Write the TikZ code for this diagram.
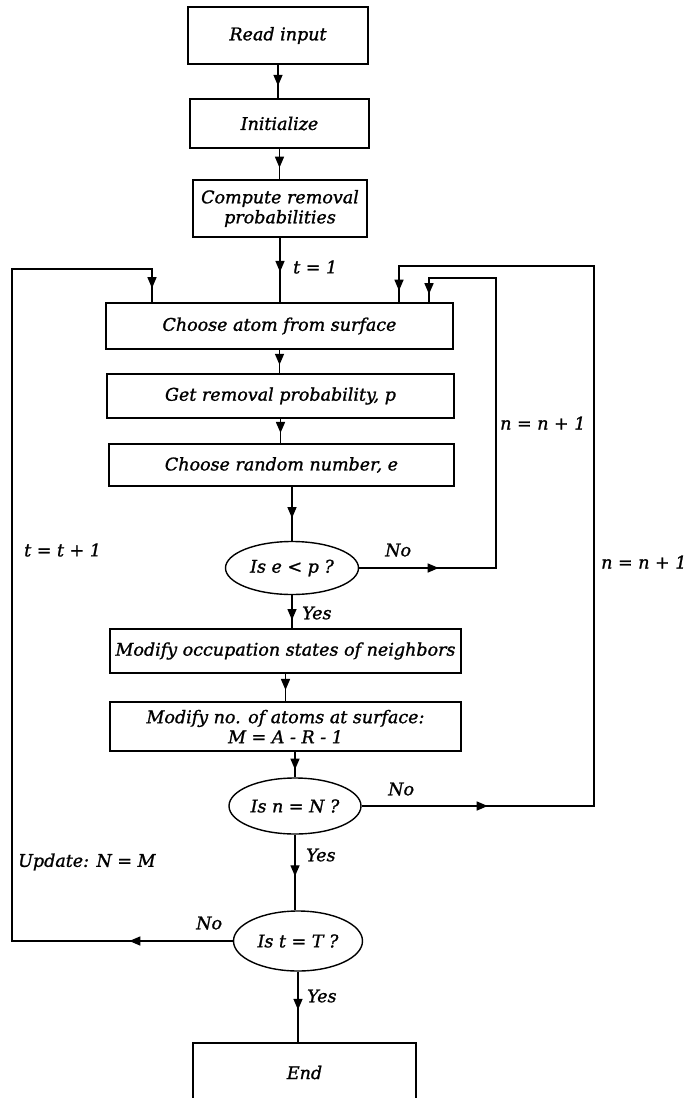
\documentclass[tikz,border=0pt]{standalone}
\usepackage{fontspec}
\setmainfont[ItalicFeatures={FakeBold=1.2}]{DejaVu Serif}
\usetikzlibrary{arrows.meta,decorations.markings,shapes.geometric}
\begin{document}
\begin{tikzpicture}[x=1pt,y=-1pt,
  every node/.style={font=\fontsize{17.5}{20}\selectfont\itshape},
  box/.style={draw,line width=1.4pt,rectangle,inner sep=0pt,align=center},
  dec/.style={draw,line width=1.4pt,ellipse,inner sep=0pt},
  conn/.style={line width=1.4pt},
  arrowat/.style={postaction={decorate,decoration={markings,mark=at position #1 with {\arrow{Triangle[length=11pt,width=9pt]}}}}},
  lbl/.style={anchor=west,inner sep=0pt}
]
\useasboundingbox (0,0) rectangle (692,1098);

% boxes
\node[box,minimum width=180pt,minimum height=57pt] (read) at (278,35.5) {Read input};
\node[box,minimum width=179pt,minimum height=49pt] (init) at (279.5,123.5) {Initialize};
\node[box,minimum width=174pt,minimum height=57pt] (comp) at (280,208.5) {Compute removal\\probabilities};
\node[box,minimum width=347pt,minimum height=46pt] (choose) at (279.5,326) {Choose atom from surface};
\node[box,minimum width=347pt,minimum height=44pt] (getp) at (280.5,396) {Get removal probability, p};
\node[box,minimum width=345pt,minimum height=42pt] (rand) at (281.5,465) {Choose random number, e};
\node[dec,minimum width=133pt,minimum height=53pt] (ell1) at (292,568) {Is e < p ?};
\node[box,minimum width=351pt,minimum height=44pt] (modocc) at (285.5,651) {Modify occupation states of neighbors};
\node[box,minimum width=351pt,minimum height=49pt] (modno) at (285.5,726.5) {Modify no. of atoms at surface:\\M = A - R - 1};
\node[dec,minimum width=132pt,minimum height=56pt] (ell2) at (295,806) {Is n = N ?};
\node[dec,minimum width=129pt,minimum height=60pt] (ell3) at (298,941) {Is t = T ?};
\node[box,minimum width=223pt,minimum height=59pt] (end) at (304.5,1072.5) {End};

% helper coordinates
\coordinate (lcorner) at (12,269);
\coordinate (lx) at (152,0);
\coordinate (ocorner) at (594,266);
\coordinate (ox) at (399,0);
\coordinate (icorner) at (496,278);
\coordinate (ix) at (429,0);

% main vertical flow
\draw[conn,arrowat=0.63] (read.south) -- (read.south |- init.north);
\draw[conn,arrowat=0.62] (init.south) -- (init.south |- comp.north);
\draw[conn,arrowat=0.53] (comp.south) -- (comp.south |- choose.north);
\draw[conn,arrowat=0.64] (choose.south) -- (choose.south |- getp.north);
\draw[conn,arrowat=0.58] (getp.south) -- (getp.south |- rand.north);
\draw[conn,arrowat=0.58] (ell1.north |- rand.south) -- (ell1.north);
\draw[conn,arrowat=0.75] (ell1.south) -- (ell1.south |- modocc.north);
\draw[conn,arrowat=0.59] (modocc.south) -- (modocc.south |- modno.north);
\draw[conn,arrowat=0.7] (ell2.north |- modno.south) -- (ell2.north);
\draw[conn,arrowat=0.55] (ell2.south) -- (ell2.south |- ell3.north);
\draw[conn,arrowat=0.54] (ell3.south) -- (ell3.south |- end.north);

% loops
\draw[conn,arrowat=103.5pt,arrowat=1052pt] (ell3.west) -- (ell3.west -| lcorner) -- (lcorner) -- (lcorner -| lx) -- (choose.north -| lx);
\draw[conn,arrowat=126pt,arrowat=992pt] (ell2.east) -- (ell2.east -| ocorner) -- (ocorner) -- (ocorner -| ox) -- (choose.north -| ox);
\draw[conn,arrowat=79.5pt,arrowat=510pt] (ell1.east) -- (ell1.east -| icorner) -- (icorner) -- (icorner -| ix) -- (choose.north -| ix);

% labels
\node[lbl] (l1) at (293,267) {t = 1};
\node[lbl] (l2) at (500,423) {n = n + 1};
\node[lbl] (l3) at (601,562) {n = n + 1};
\node[lbl] (l4) at (24,550) {t = t + 1};
\node[lbl] (l5) at (385,550) {No};
\node[lbl] (l6) at (302,613) {Yes};
\node[lbl] (l7) at (388,789) {No};
\node[lbl] (l8) at (306,855) {Yes};
\node[lbl] (l9) at (18,862) {Update: N = M};
\node[lbl] (l10) at (196,923) {No};
\node[lbl] (l11) at (307,996) {Yes};
\end{tikzpicture}
\end{document}
